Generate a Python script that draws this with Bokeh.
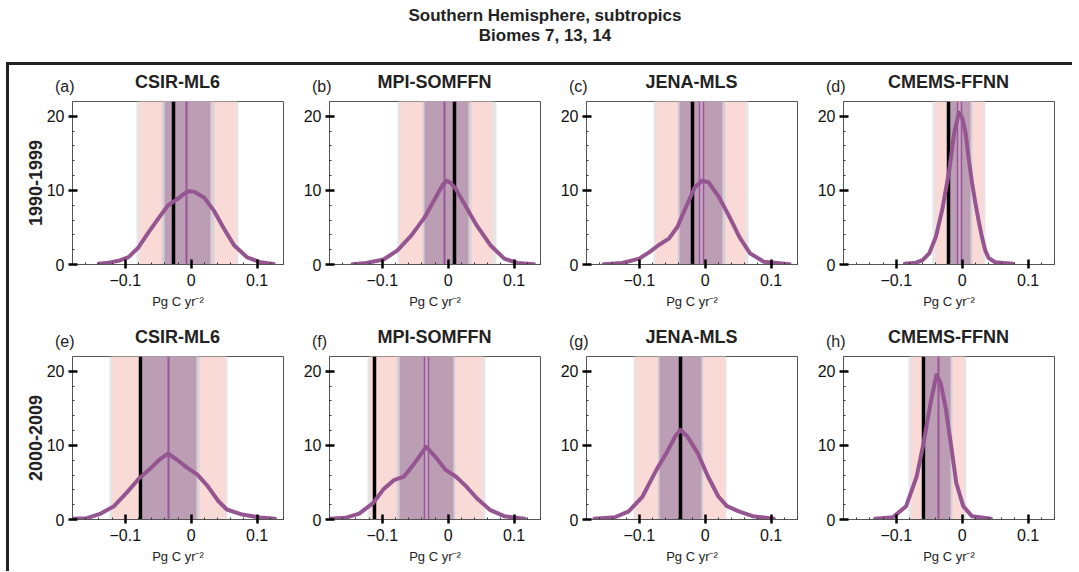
import numpy as np
from bokeh.plotting import figure
from bokeh.models import Range1d, FixedTicker, Div, Spacer, CustomJSTickFormatter
from bokeh.layouts import column, row
from bokeh.embed import file_html
from bokeh.resources import INLINE

FONT = "Liberation Sans"

title_lines = ["Southern Hemisphere, subtropics", "Biomes 7, 13, 14"]
models = ["CSIR-ML6", "MPI-SOMFFN", "JENA-MLS", "CMEMS-FFNN"]
letters = ["(a)", "(b)", "(c)", "(d)", "(e)", "(f)", "(g)", "(h)"]
periods = ["1990-1999", "2000-2009"]
x_label = "Pg C yr\u207b\u00b2"

# band limits per panel (a..h), Pg C yr-2
outer_lo = [-0.0825, -0.0773, -0.0785, -0.045, -0.124, -0.1227, -0.109, -0.0812]
outer_hi = [0.0725, 0.0726, 0.0654, 0.036, 0.055, 0.0559, 0.033, 0.0068]
pink_lo = [-0.079, -0.0731, -0.0749, -0.040, -0.120, -0.118, -0.1055, -0.077]
pink_hi = [0.0685, 0.0679, 0.0618, 0.032, 0.0513, 0.0522, 0.0304, 0.0042]
inner_lo = [-0.045, -0.0397, -0.0419, -0.023, -0.078, -0.0783, -0.0728, -0.060]
inner_hi = [0.035, 0.035, 0.0304, 0.016, 0.012, 0.0115, -0.0021, -0.0141]
purple_lo = [-0.041, -0.0366, -0.0387, -0.019, -0.0743, -0.0736, -0.069, -0.056]
purple_hi = [0.030, 0.0308, 0.0262, 0.0125, 0.0079, 0.0078, -0.0058, -0.0183]
obs_line = [-0.0273, 0.0089, -0.0194, -0.0215, -0.077, -0.111, -0.0377, -0.0586]
median_line = [-0.0064, -0.0052, -0.0058, -0.0042, -0.035, -0.0334, -0.038, -0.0366]
median_halfwidth = [0.0, 0.0, 0.003, 0.0026, 0.0, 0.003, 0.0, 0.0]

# density curves
kde_x_a = [-0.14, -0.125, -0.11, -0.095, -0.08, -0.065, -0.0475, -0.035, -0.02, -0.01, -0.003, 0.005, 0.02, 0.035, 0.05, 0.065, 0.085, 0.105, 0.125]
kde_y_a = [0.1, 0.25, 0.5, 1.0, 2.3, 4.3, 6.5, 8.0, 8.9, 9.6, 9.9, 9.8, 9.0, 7.2, 4.8, 2.6, 0.95, 0.3, 0.08]
kde_x_b = [-0.145, -0.124, -0.098, -0.077, -0.056, -0.0355, -0.0198, -0.008, -0.002, 0.004, 0.0115, 0.027, 0.043, 0.064, 0.085, 0.105, 0.13]
kde_y_b = [0.05, 0.2, 0.67, 1.9, 3.9, 6.4, 8.9, 10.8, 11.3, 11.0, 10.2, 7.8, 5.3, 2.6, 0.8, 0.2, 0.05]
kde_x_c = [-0.154, -0.126, -0.1, -0.084, -0.071, -0.055, -0.042, -0.029, -0.0157, -0.005, 0.005, 0.021, 0.037, 0.052, 0.068, 0.089, 0.128]
kde_y_c = [0.05, 0.2, 0.8, 1.7, 2.6, 3.5, 5.1, 7.8, 10.4, 11.3, 11.1, 9.1, 6.4, 3.7, 1.5, 0.36, 0.05]
kde_x_d = [-0.087, -0.07, -0.06, -0.05, -0.04, -0.03, -0.02, -0.012, -0.005, 0.0, 0.005, 0.01, 0.015, 0.02, 0.025, 0.03, 0.035, 0.04, 0.05, 0.077]
kde_y_d = [0.1, 0.25, 0.6, 1.5, 3.7, 7.5, 12.5, 17.8, 20.5, 19.8, 17.8, 14.2, 11.0, 8.3, 5.9, 3.7, 1.9, 0.9, 0.3, 0.1]
kde_x_e = [-0.179, -0.158, -0.137, -0.117, -0.096, -0.0796, -0.064, -0.048, -0.035, -0.022, -0.0063, 0.0094, 0.025, 0.041, 0.054, 0.0775, 0.104, 0.127]
kde_y_e = [0.1, 0.18, 0.8, 1.8, 3.8, 5.5, 6.7, 8.1, 8.9, 8.1, 7.0, 6.05, 4.5, 2.5, 1.35, 0.67, 0.27, 0.1]
kde_x_f = [-0.179, -0.156, -0.135, -0.114, -0.098, -0.0825, -0.067, -0.051, -0.0334, -0.0198, -0.004, 0.0115, 0.027, 0.043, 0.064, 0.085, 0.116]
kde_y_f = [0.1, 0.22, 0.8, 2.2, 4.1, 5.3, 5.8, 7.6, 9.8, 8.5, 6.7, 5.8, 4.5, 2.9, 1.26, 0.45, 0.1]
kde_x_g = [-0.168, -0.137, -0.116, -0.095, -0.074, -0.0586, -0.0455, -0.0377, -0.027, -0.0115, 0.0042, 0.02, 0.033, 0.051, 0.072, 0.104]
kde_y_g = [0.1, 0.3, 1.1, 3.1, 6.7, 9.0, 11.2, 12.1, 11.2, 9.0, 5.8, 3.1, 1.8, 1.1, 0.45, 0.1]
kde_x_h = [-0.132, -0.105, -0.085, -0.069, -0.0586, -0.048, -0.039, -0.0325, -0.0246, -0.0167, -0.0089, 0.0016, 0.0147, 0.0435]
kde_y_h = [0.1, 0.3, 1.8, 5.8, 10.3, 15.7, 19.5, 18.4, 14.8, 9.9, 4.9, 1.8, 0.45, 0.1]

kde_x = [kde_x_a, kde_x_b, kde_x_c, kde_x_d, kde_x_e, kde_x_f, kde_x_g, kde_x_h]
kde_y = [kde_y_a, kde_y_b, kde_y_c, kde_y_d, kde_y_e, kde_y_f, kde_y_g, kde_y_h]

x_ticks = [-0.1, 0.0, 0.1]
x_minor = [round(v, 2) for v in np.arange(-0.18, 0.141, 0.02) if all(abs(v - t) > 1e-6 for t in x_ticks)]
y_ticks = [0, 10, 20]
y_minor = [2, 4, 6, 8, 12, 14, 16, 18]

C_OUTER = "#e6e5e6"
C_PINK = "#f9dad6"
C_INNER = "#d9d0d7"
C_PURPLE = "#bb9db4"
C_CURVE = "#955591"
C_MED = "#9b559a"

FW, FH = 211, 163
HEAD_H = 30
ROW_BOTTOM = [56, 47]


def make_panel(i):
    r, c = divmod(i, 4)
    left = 63 if c == 0 else 30
    right = 16
    top = 6
    bottom = ROW_BOTTOM[r]
    w = left + FW + right
    p = figure(width=w, height=top + FH + bottom,
               x_range=Range1d(-0.18, 0.14), y_range=Range1d(0, 22),
               output_backend="svg", toolbar_location=None, title=None,
               min_border_left=left, min_border_right=right,
               min_border_top=top, min_border_bottom=bottom)
    p.xgrid.visible = False
    p.ygrid.visible = False
    p.outline_line_color = "#555555"
    p.outline_line_width = 1
    p.background_fill_color = "white"
    p.border_fill_color = "white"

    p.vstrip(x0=[outer_lo[i]], x1=[outer_hi[i]], fill_color=C_OUTER, line_color=None)
    p.vstrip(x0=[pink_lo[i]], x1=[pink_hi[i]], fill_color=C_PINK, line_color=None)
    p.vstrip(x0=[inner_lo[i]], x1=[inner_hi[i]], fill_color=C_INNER, line_color=None)
    p.vstrip(x0=[purple_lo[i]], x1=[purple_hi[i]], fill_color=C_PURPLE, line_color=None)
    hw = median_halfwidth[i]
    if hw > 0:
        p.vstrip(x0=[median_line[i] - hw], x1=[median_line[i] + hw],
                 fill_color="#c8a9c4", line_color=C_MED, line_width=1.5)
    else:
        p.vspan(x=[median_line[i]], line_color=C_MED, line_width=2)
    p.vspan(x=[obs_line[i]], line_color="black", line_width=3.5)
    p.line(kde_x[i], kde_y[i], line_color=C_CURVE, line_width=4,
           line_join="round", line_cap="round")

    p.xaxis.ticker = FixedTicker(ticks=x_ticks, minor_ticks=x_minor)
    p.yaxis.ticker = FixedTicker(ticks=y_ticks, minor_ticks=y_minor)
    p.xaxis.formatter = CustomJSTickFormatter(code="""
        if (Math.abs(tick) < 1e-9) return "0";
        const s = (Math.round(Math.abs(tick) * 10) / 10).toString();
        return (tick < 0 ? "\\u2212" : "") + s;
    """)
    for ax in (p.xaxis[0], p.yaxis[0]):
        ax.axis_line_color = "#555555"
        ax.axis_line_width = 1
        ax.major_tick_line_color = "black"
        ax.major_tick_line_width = 2.5
        ax.major_tick_in = 5
        ax.major_tick_out = 4
        ax.minor_tick_line_color = "#333333"
        ax.minor_tick_line_width = 1
        ax.minor_tick_in = 2
        ax.minor_tick_out = 0
        ax.major_label_text_font = FONT
        ax.major_label_text_font_size = "16px"
        ax.major_label_text_color = "#111111"
        ax.major_label_standoff = 4
    p.xaxis.major_label_standoff = 5
    p.xaxis.axis_label = x_label
    p.xaxis.axis_label_text_font = FONT
    p.xaxis.axis_label_text_font_size = "13px"
    p.xaxis.axis_label_text_font_style = "normal"
    p.xaxis.axis_label_text_color = "#222222"
    p.xaxis.axis_label_standoff = 5
    if c == 0:
        p.yaxis.axis_label = periods[r]
        p.yaxis.axis_label_text_font = FONT
        p.yaxis.axis_label_text_font_size = "18px"
        p.yaxis.axis_label_text_font_style = "bold"
        p.yaxis.axis_label_text_color = "#222222"
        p.yaxis.axis_label_standoff = 2

    head_html = (
        f'<div style="position:relative;width:{w}px;height:{HEAD_H}px;'
        f'font-family:\'{FONT}\';color:#222;">'
        f'<span style="position:absolute;left:{left - 17}px;top:12px;'
        f'font-size:16px;line-height:20px;white-space:nowrap;">{letters[i]}</span>'
        f'<span style="position:absolute;left:{left}px;width:{FW}px;top:7px;'
        f'text-align:center;font-weight:bold;font-size:18px;line-height:20px;'
        f'white-space:nowrap;">{models[c]}</span></div>'
    )
    head = Div(text=head_html, width=w, height=HEAD_H, margin=0)
    return column(head, p, spacing=0)


panels = [make_panel(i) for i in range(8)]
grid = column(row(*panels[:4], spacing=0), row(*panels[4:], spacing=0), spacing=0)

LEFT_PAD = 6
grid_w = (63 + FW + 16) + 3 * (30 + FW + 16)
line_w = 1072 - LEFT_PAD
left_line_h = 506

title_div = Div(
    text=(f'<div style="position:relative;top:6px;width:{line_w - 12}px;margin-left:12px;'
          'text-align:center;font-family:\'Liberation Sans\';font-weight:bold;font-size:17px;'
          'line-height:20px;color:#222;">'
          + title_lines[0] + '<br>' + title_lines[1] + '</div>'),
    width=line_w, height=62, margin=0)
top_line = Div(text="", width=line_w, height=3, margin=0,
               styles={"background-color": "#222222"})
left_line = Div(text="", width=3, height=left_line_h, margin=0,
                styles={"background-color": "#222222"})

body = column(title_div, top_line, row(left_line, grid, spacing=0), spacing=0)
layout = row(Spacer(width=LEFT_PAD, height=10, margin=0), body, spacing=0)

open("out.html", "w").write(file_html(layout, INLINE))
